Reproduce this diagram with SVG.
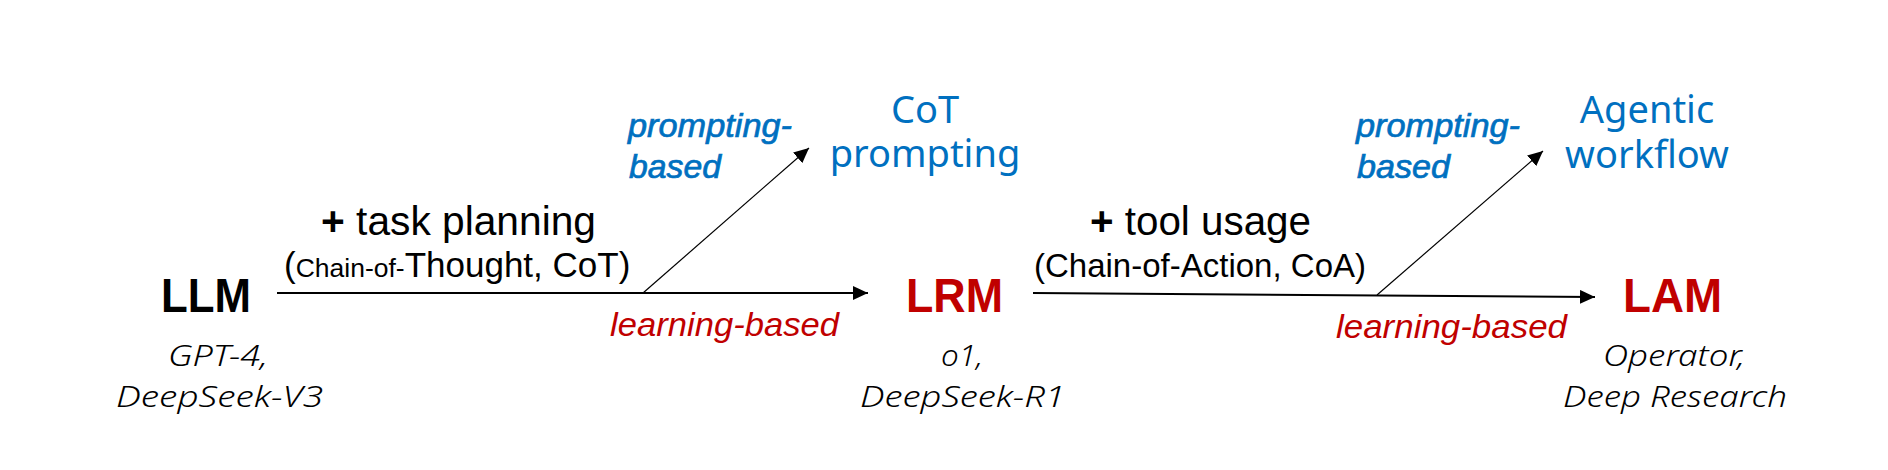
<svg xmlns="http://www.w3.org/2000/svg" width="1888" height="470" viewBox="0 0 1888 470">
<style>
text{font-family:"Liberation Sans",Arial,sans-serif}
.node{font-size:48px;font-weight:bold}
.black{fill:#000}
.red{fill:#C00000}
.blue{fill:#0070C0}
.ex{font-family:"Noto Sans","Open Sans",sans-serif;font-style:italic;font-weight:300;font-size:30px;fill:#000}
.lbl{font-size:40px;fill:#000}
.sub{font-size:33px;fill:#000}
.meth{font-style:italic;font-size:34px}
.pb{font-style:italic;font-size:34px;fill:#0070C0;stroke:#0070C0;stroke-width:0.7}
.res{font-family:"Noto Sans","Open Sans",sans-serif;font-size:38px;fill:#0070C0;text-anchor:middle}
.main{stroke:#000;stroke-width:2;fill:none}
.diag{stroke:#000;stroke-width:1.2;fill:none}
</style>
<defs>
<marker id="ah" markerUnits="userSpaceOnUse" markerWidth="16" markerHeight="14" refX="15" refY="7" orient="auto">
<path d="M0,0 L15,7 L0,14 z" fill="#000"/>
</marker>
</defs>
<rect width="1888" height="470" fill="#fff"/>

<g id="connectors">
<line class="main" x1="277" y1="293" x2="868" y2="293" marker-end="url(#ah)"/>
<line class="diag" x1="643" y1="293" x2="809" y2="148" marker-end="url(#ah)"/>
<line class="main" x1="1033" y1="293" x2="1595" y2="297" marker-end="url(#ah)"/>
<line class="diag" x1="1377" y1="295" x2="1543" y2="151" marker-end="url(#ah)"/>
</g>

<g id="llm">
<text class="node black" x="161" y="312" textLength="90" lengthAdjust="spacingAndGlyphs">LLM</text>
<text class="ex" x="168" y="366" textLength="100" lengthAdjust="spacingAndGlyphs">GPT-4,</text>
<text class="ex" x="116" y="407" textLength="207" lengthAdjust="spacingAndGlyphs">DeepSeek-V3</text>
</g>

<g id="lrm">
<text class="node red" x="906" y="312" textLength="97" lengthAdjust="spacingAndGlyphs">LRM</text>
<text class="ex" x="941" y="366" textLength="42" lengthAdjust="spacingAndGlyphs">o1,</text>
<text class="ex" x="860" y="407" textLength="205" lengthAdjust="spacingAndGlyphs">DeepSeek-R1</text>
</g>

<g id="lam">
<text class="node red" x="1623" y="312" textLength="99" lengthAdjust="spacingAndGlyphs">LAM</text>
<text class="ex" x="1603" y="366" textLength="142" lengthAdjust="spacingAndGlyphs">Operator,</text>
<text class="ex" x="1563" y="407" textLength="224" lengthAdjust="spacingAndGlyphs">Deep Research</text>
</g>

<g id="cot-prompting">
<text class="res" x="925" y="123">CoT</text>
<text class="res" x="925" y="167">prompting</text>
</g>

<g id="agentic-workflow">
<text class="res" x="1647" y="123">Agentic</text>
<text class="res" x="1647" y="168">workflow</text>
</g>

<g id="label-task-planning">
<text class="lbl" x="321" y="235" textLength="275" lengthAdjust="spacingAndGlyphs"><tspan font-weight="bold">+</tspan> task planning</text>
<text class="sub" x="284" y="277"><tspan font-size="35">(</tspan><tspan font-size="26.5">Chain-of-</tspan><tspan font-size="35">Thought, CoT)</tspan></text>
</g>

<g id="label-tool-usage">
<text class="lbl" x="1090" y="235" textLength="221" lengthAdjust="spacingAndGlyphs"><tspan font-weight="bold">+</tspan> tool usage</text>
<text class="sub" x="1034" y="277" textLength="332" lengthAdjust="spacingAndGlyphs">(Chain-of-Action, CoA)</text>
</g>

<g id="method-labels-1">
<text class="pb" x="628" y="137" textLength="164" lengthAdjust="spacingAndGlyphs">prompting-</text>
<text class="pb" x="629" y="178" textLength="92" lengthAdjust="spacingAndGlyphs">based</text>
<text class="meth red" x="610" y="336" textLength="229" lengthAdjust="spacingAndGlyphs">learning-based</text>
</g>

<g id="method-labels-2">
<text class="pb" x="1356" y="137" textLength="164" lengthAdjust="spacingAndGlyphs">prompting-</text>
<text class="pb" x="1357" y="178" textLength="93" lengthAdjust="spacingAndGlyphs">based</text>
<text class="meth red" x="1336" y="338" textLength="231" lengthAdjust="spacingAndGlyphs">learning-based</text>
</g>
</svg>
